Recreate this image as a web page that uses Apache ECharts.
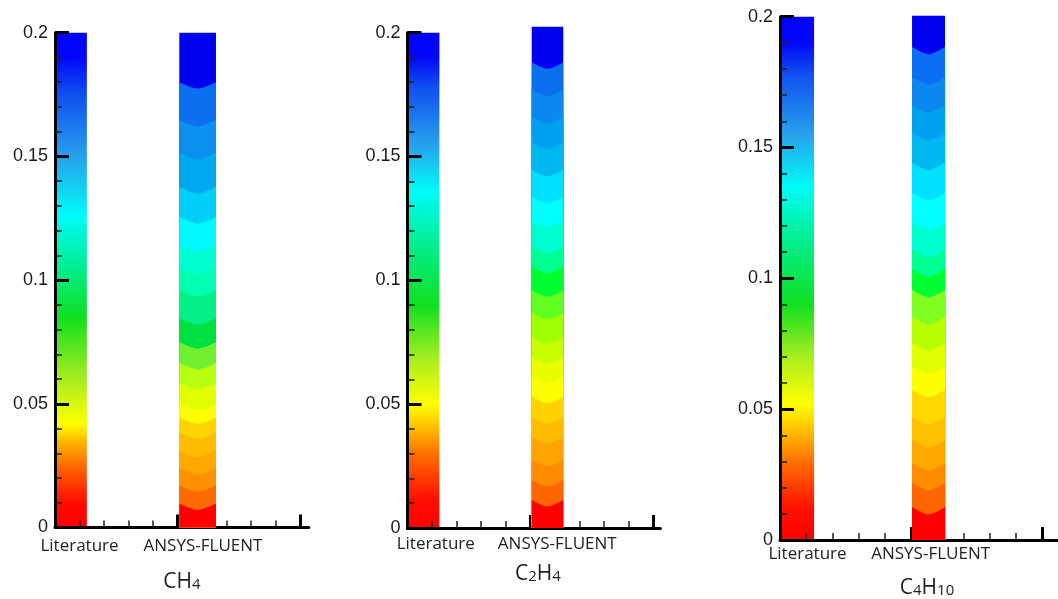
<!DOCTYPE html>
<html>
<head>
<meta charset="utf-8">
<script src="https://cdn.jsdelivr.net/npm/echarts@6/dist/echarts.min.js"></script>
<style>
html,body{margin:0;padding:0;background:#ffffff;}
#chart{width:1058px;height:599px;}
</style>
</head>
<body>
<div id="chart"></div>
<script>
// ---------------- data ----------------
const categories = ['Literature', 'ANSYS-FLUENT'];
const gases = ['CH4', 'C2H4', 'C4H10'];
const yTicks = [0, 0.05, 0.1, 0.15, 0.2];
const literatureTop = [0.2, 0.2, 0.2];
// ANSYS-FLUENT contour band boundaries (bottom to top)
const ch4Levels = [0, 0.0097, 0.017, 0.024, 0.031, 0.0385, 0.0445, 0.050, 0.0585, 0.0665, 0.0749, 0.0846, 0.096, 0.105, 0.114, 0.1255, 0.1377, 0.1514, 0.1648, 0.180, 0.200];
const c2h4Levels = [0, 0.0113, 0.0194, 0.0275, 0.0368, 0.0448, 0.053, 0.061, 0.069, 0.077, 0.0869, 0.096, 0.1055, 0.1135, 0.124, 0.1337, 0.1446, 0.1556, 0.166, 0.177, 0.188, 0.2024];
const c4h10Levels = [0, 0.0126, 0.0218, 0.0294, 0.0382, 0.047, 0.0574, 0.0662, 0.0753, 0.0853, 0.0956, 0.1035, 0.1109, 0.1212, 0.1327, 0.1442, 0.1556, 0.1663, 0.177, 0.1885, 0.2004];

// ---------------- styles ----------------
const ch4Colors = ['#ff0000','#ff6a00','#ff9000','#ffa800','#ffbc00','#ffd400','#ffff00','#e0ff00','#b8ff10','#70f030','#00e040','#00f088','#00ffb0','#00ffd0','#00f8ff','#00d0f8','#00a8f0','#0a90f0','#0a70f0','#0000f0'];
const c2h4Colors = ['#ff0000','#ff6600','#ff8c00','#ffa400','#ffbc00','#ffd200','#ffff00','#e8ff00','#c8ff00','#a0ff00','#60ff20','#00ff30','#00ff90','#00ffd0','#00ffff','#00e0ff','#00b8f0','#00a0f0','#0a88f0','#0a70f0','#0000f0'];
const c4h10Colors = ['#ff0000','#ff6600','#ff8c00','#ffa800','#ffc000','#ffd800','#ffff00','#e0ff00','#b8ff00','#80ff20','#00ff30','#00ff90','#00ffd0','#00ffff','#00e0ff','#00b8f0','#00a0f0','#0a88f0','#0a6ef0','#0000f0'];

const litStops1 = [[0,'#ff0000'],[0.01,'#ff0a00'],[0.025,'#ff6a00'],[0.034,'#ffb000'],[0.042,'#ffff00'],[0.06,'#a8ec20'],[0.085,'#10e020'],[0.108,'#00f0a0'],[0.126,'#00fcf8'],[0.15,'#28a0ec'],[0.175,'#1050f0'],[0.19,'#0008f8'],[0.2,'#0000ff']];
const litStops2 = [[0,'#ff0000'],[0.012,'#ff1000'],[0.03,'#ff7000'],[0.041,'#ffc000'],[0.05,'#ffff00'],[0.068,'#a8ee20'],[0.09,'#10e020'],[0.118,'#00f0a0'],[0.136,'#00fcf8'],[0.155,'#28a0ec'],[0.178,'#1050f0'],[0.19,'#0008f8'],[0.2,'#0000ff']];
const litStops3 = [[0,'#ff0000'],[0.012,'#ff1000'],[0.03,'#ff7000'],[0.042,'#ffc000'],[0.052,'#ffff00'],[0.07,'#a8ee20'],[0.09,'#10e020'],[0.118,'#00f0a0'],[0.135,'#00fcf8'],[0.155,'#28a0ec'],[0.178,'#1050f0'],[0.19,'#0008f8'],[0.2,'#0000ff']];

const panels = [
  {levels: ch4Levels, colors: ch4Colors, litStops: litStops1, left: 55, top: 32.7, height: 494.8, unit: 122.6, xMax: 2.07, lit: [0, 0.26], ans: [0.014, 0.313], labelX: [0.2, 1.207], labelMargin: 10, title: [182, 582], dip: 6.5},
  {levels: c2h4Levels, colors: c2h4Colors, litStops: litStops2, left: 407.5, top: 32.7, height: 495.3, unit: 122.75, xMax: 2.06, lit: [0, 0.26], ans: [0.012, 0.269], labelX: [0.23, 1.22], labelMargin: 8, title: [538, 574], dip: 6.5},
  {levels: c4h10Levels, colors: c4h10Colors, litStops: litStops3, left: 780, top: 16.7, height: 523.3, unit: 131, xMax: 2.13, lit: [0, 0.26], ans: [0.008, 0.26], labelX: [0.21, 1.15], labelMargin: 6, title: [927, 588], dip: 7.5}
];

const labelFont = 'Open Sans';
const tickFont = 'Liberation Sans';

function richGas(g) {
  return g.replace(/(\D+)|(\d+)/g, function (m, a, b) { return a ? '{n|' + a + '}' : '{s|' + b + '}'; });
}

function litRender(p) {
  return function (params, api) {
    const idx = api.value(0), top = api.value(2);
    const xl = api.coord([idx + p.lit[0], 0])[0];
    const xr = api.coord([idx + p.lit[1], 0])[0];
    const yb = api.coord([0, api.value(1)])[1];
    const yt = api.coord([0, top])[1];
    return {
      type: 'rect',
      shape: {x: xl, y: yt, width: xr - xl, height: yb - yt},
      style: {fill: new echarts.graphic.LinearGradient(0, 1, 0, 0,
        p.litStops.map(function (s) { return {offset: s[0] / top, color: s[1]}; }))}
    };
  };
}

function ansRender(p) {
  return function (params, api) {
    const idx = api.value(0), lo = api.value(1), hi = api.value(2);
    const flatTop = api.value(3) === 1, band = api.value(4);
    const xl = api.coord([idx + p.ans[0], 0])[0];
    const xr = api.coord([idx + p.ans[1], 0])[0];
    const yb = api.coord([0, lo])[1];
    const yt = api.coord([0, hi])[1];
    const pts = [[xl, yb], [xr, yb]];
    const N = 32;
    for (let k = 0; k <= N; k++) {
      const t = k / N, u = 2 * t - 1;
      const x = xr + (xl - xr) * t;
      const y = yt + (flatTop ? 0 : p.dip * (1 - Math.pow(Math.abs(u), 1.4)));
      pts.push([x, y]);
    }
    return {type: 'polygon', z2: 100 - band, shape: {points: pts}, style: {fill: p.colors[band]}};
  };
}

const grids = [], xAxes = [], yAxes = [], series = [], graphics = [];
panels.forEach(function (p, i) {
  grids.push({left: p.left, top: p.top, width: p.unit * p.xMax, height: p.height, containLabel: false, outerBoundsMode: 'none'});
  // main x axis: line + major ticks + labels
  xAxes.push({
    type: 'value', gridIndex: i, min: 0, max: p.xMax, position: 'bottom', z: 3,
    axisLine: {show: true, onZero: false, lineStyle: {color: '#000', width: 3}},
    axisTick: {show: true, inside: true, length: 13, customValues: [0, 1, 2], lineStyle: {color: '#000', width: 3}},
    axisLabel: {show: true, customValues: p.labelX, margin: p.labelMargin, fontFamily: labelFont, fontSize: 17, color: '#222',
      formatter: function (v) { return categories[Math.round(v - 0.2) > 0 ? 1 : 0]; }},
    splitLine: {show: false}
  });
  // minor x ticks
  xAxes.push({
    type: 'value', gridIndex: i, min: 0, max: p.xMax, position: 'bottom', z: 3,
    axisLine: {show: false},
    axisTick: {show: true, inside: true, length: 7, customValues: [0.2, 0.4, 0.6, 0.8, 1.2, 1.4, 1.6, 1.8], lineStyle: {color: '#222', width: 1.5}},
    axisLabel: {show: false},
    splitLine: {show: false}
  });
  yAxes.push({
    type: 'value', gridIndex: i, min: yTicks[0], max: yTicks[yTicks.length - 1], interval: yTicks[1] - yTicks[0], z: 3,
    axisLine: {show: true, onZero: false, lineStyle: {color: '#000', width: 3}},
    axisTick: {show: true, inside: true, length: 14, lineStyle: {color: '#000', width: 3}},
    minorTick: {show: true, splitNumber: 5, length: 7, lineStyle: {color: '#222', width: 1.5}},
    axisLabel: {show: true, margin: 7, fontFamily: tickFont, fontSize: 18, color: '#1a1a1a',
      formatter: function (v) { return String(+v.toFixed(3)); }},
    splitLine: {show: false}
  });
  series.push({
    type: 'custom', xAxisIndex: 2 * i, yAxisIndex: i, z: 2,
    renderItem: litRender(p),
    encode: {x: 0, y: [1, 2]},
    data: [[0, 0, literatureTop[i]]]
  });
  const n = p.levels.length - 1;
  const bandData = [];
  for (let b = n - 1; b >= 0; b--) {
    bandData.push([1, p.levels[0], p.levels[b + 1], b === n - 1 ? 1 : 0, b]);
  }
  series.push({
    type: 'custom', xAxisIndex: 2 * i, yAxisIndex: i, z: 5, clip: false,
    renderItem: ansRender(p),
    encode: {x: 0, y: [1, 2]},
    data: bandData
  });
  graphics.push({
    type: 'text', x: p.title[0], y: p.title[1], z: 10,
    style: {
      text: richGas(gases[i]), align: 'center', verticalAlign: 'middle',
      rich: {
        n: {fontSize: 21, fontFamily: labelFont, fill: '#222', verticalAlign: 'bottom'},
        s: {fontSize: 15, fontFamily: labelFont, fill: '#222', verticalAlign: 'bottom'}
      }
    }
  });
});

const chart = echarts.init(document.getElementById('chart'), null, {renderer: 'canvas'});
chart.setOption({
  backgroundColor: '#ffffff',
  animation: false,
  grid: grids,
  xAxis: xAxes,
  yAxis: yAxes,
  series: series,
  graphic: graphics
});
</script>
</body>
</html>
